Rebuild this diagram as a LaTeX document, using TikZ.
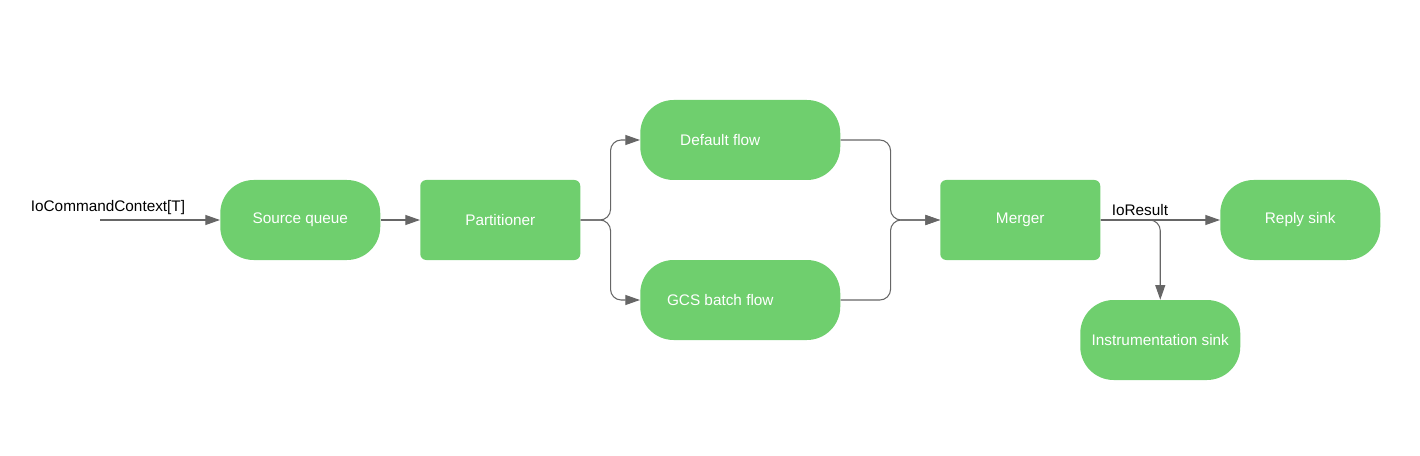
\documentclass[tikz,border=0pt]{standalone}
\usepackage{fontspec}
\setmainfont{Liberation Sans}
\usetikzlibrary{arrows.meta}
\definecolor{stagegreen}{RGB}{111,207,110}
\definecolor{wiregray}{RGB}{102,102,102}
\newcommand{\widthstage}{120pt}
\newcommand{\widthflow}{150pt}
\newcommand{\heightstage}{60pt}
\newcommand{\gapstage}{30pt}
\tikzset{
    >={Triangle[length=11pt, width=7.5pt]},
    common/.style={anchor=west, fill=stagegreen, text=white, minimum height=\heightstage, inner sep=0pt,
        font=\fontsize{11.5}{14}\selectfont},
    stage/.style={common, rectangle, rounded corners=4.5pt, minimum width=\widthstage},
    terminal/.style={common, rectangle, rounded corners=25pt, minimum width=\widthstage},
    flow/.style={terminal, minimum width=\widthflow},
    wire/.style={->, draw=wiregray, line width=0.8pt, rounded corners=8pt},
    wirelabel/.style={text=black, font=\fontsize{11.5}{14}\selectfont, inner sep=1pt}
}

\begin{document}
\begin{tikzpicture}
    \useasboundingbox (0,0) rectangle (1065pt,-342pt);

    \path
        (75pt,-165pt) coordinate (cmd-in)
        to ++(0:90pt) node[terminal] (source) {Source queue}
        to ++(0:\widthstage + \gapstage) node[stage] (partitioner) {Partitioner}
        to ++(0:390pt) node[stage] (merger) {Merger}
        to ++(0:210pt) node[terminal] (reply) {Reply sink};

    \path (partitioner.west)
        to ++(165pt,60pt) node[flow, label={[xshift=-15pt, text=white, font=\fontsize{11.5}{14}\selectfont]center:Default flow}] (default) {};
    \path (partitioner.west)
        to ++(165pt,-60pt) node[flow, label={[xshift=-15pt, text=white, font=\fontsize{11.5}{14}\selectfont]center:GCS batch flow}] (gcs) {};
    \path (merger.west)
        to ++(105pt,-90pt) node[terminal] (instr) {Instrumentation sink};

    \node[wirelabel, anchor=south] (cmd-label) at ([xshift=6pt, yshift=3pt]cmd-in) {IoCommandContext[T]};

    \draw[wire] (cmd-in) -- (source);
    \draw[wire] (source) -- (partitioner);
    \draw[wire] (partitioner.east) -- ++(22.5pt,0) |- (default.west);
    \draw[wire] (partitioner.east) -- ++(22.5pt,0) |- (gcs.west);
    \draw[wire] (default.east) -- ++(37.5pt,0) |- (merger.west);
    \draw[wire] (gcs.east) -- ++(37.5pt,0) |- (merger.west);
    \draw[wire] (merger) -- node[wirelabel, pos=0.33, above=2pt] (result-label) {IoResult} (reply);
    \draw[wire] (merger.east) -| (instr.north);
\end{tikzpicture}
\end{document}
